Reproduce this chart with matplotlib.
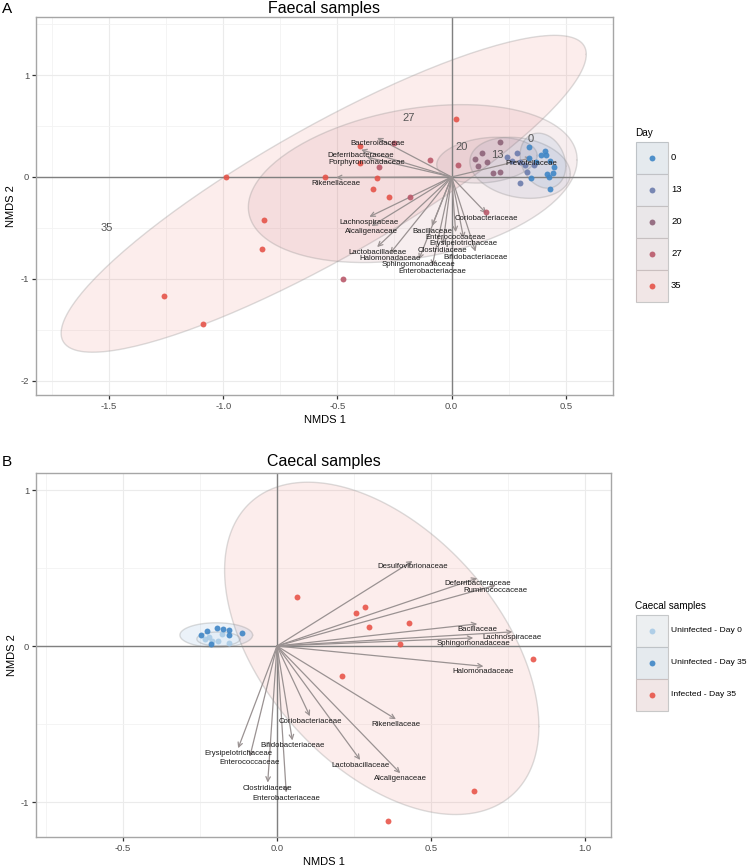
import matplotlib
matplotlib.use("Agg")
import matplotlib.pyplot as plt
import numpy as np
from matplotlib.patches import Rectangle
from matplotlib.ticker import MultipleLocator, FixedLocator, FixedFormatter

plt.rcParams['font.family'] = ['Liberation Sans', 'DejaVu Sans']

# ---------------- faecal samples (panel A) ----------------
faecal_days = [0, 13, 20, 27, 35]
faecal_colors = ['#3f86c6', '#6c7cad', '#8e6379', '#b9596a', '#e5544a']

faecal_day = ([0] * 13 + [13] * 8 + [20] * 7 + [27] * 7 + [35] * 12)
faecal_x = [0.339, 0.408, 0.415, 0.339, 0.43, 0.444, 0.427, 0.433, 0.35, 0.39, 0.45, 0.37, 0.42,
            0.301, 0.286, 0.244, 0.32, 0.298, 0.266, 0.36, 0.33,
            0.21, 0.134, 0.155, 0.102, 0.114, 0.181, 0.21,
            0.026, -0.093, -0.25, -0.316, -0.18, 0.149, -0.474,
            0.02, -0.40, -0.40, -0.553, -0.325, -0.343, -0.273, -0.99, -0.82, -0.83, -1.26, -1.09]
faecal_y = [0.291, 0.258, 0.216, 0.183, 0.16, 0.042, -0.003, -0.115, -0.007, 0.22, 0.10, 0.15, 0.03,
            -0.062, 0.238, 0.2, 0.118, 0.15, 0.157, 0.12, 0.05,
            0.346, 0.232, 0.144, 0.18, 0.111, 0.036, 0.049,
            0.115, 0.167, 0.33, 0.10, -0.2, -0.34, -1.003,
            0.565, 0.30, 0.134, 0.003, -0.007, -0.115, -0.193, 0.0, -0.42, -0.71, -1.17, -1.44]

# stat_ellipse outlines per day: centre, half-extent in x / y, correlation
faecal_ell_cx = [0.40, 0.30, 0.155, -0.17, -0.56]
faecal_ell_cy = [0.16, 0.09, 0.165, -0.065, -0.165]
faecal_ell_sx = [0.10, 0.22, 0.22, 0.72, 1.15]
faecal_ell_sy = [0.27, 0.30, 0.225, 0.775, 1.555]
faecal_ell_r = [-0.2, -0.2, 0.2, 0.3, 0.88]
faecal_lab_x = [0.345, 0.20, 0.042, -0.19, -1.51]
faecal_lab_y = [0.37, 0.216, 0.297, 0.58, -0.5]

faecal_taxa = ['Bacteroidaceae', 'Deferribacteraceae', 'Porphyromonadaceae', 'Rikenellaceae',
               'Prevotellaceae', 'Lachnospiraceae', 'Alcaligenaceae', 'Bacillaceae',
               'Coriobacteriaceae', 'Enterococcaceae', 'Erysipelotrichaceae', 'Clostridiaceae',
               'Lactobacillaceae', 'Bifidobacteriaceae', 'Halomonadaceae', 'Sphingomonadaceae',
               'Enterobacteriaceae']
faecal_vx = [-0.326, -0.396, -0.371, -0.506, 0.35, -0.36, -0.35, -0.086, 0.152, 0.018, 0.053,
             -0.038, -0.326, 0.105, -0.269, -0.143, -0.085]
faecal_vy = [0.384, 0.267, 0.194, -0.005, 0.188, -0.391, -0.482, -0.482, -0.356, -0.541, -0.603,
             -0.666, -0.688, -0.733, -0.75, -0.809, -0.874]

# ---------------- caecal samples (panel B) ----------------
caecal_groups = ['Uninfected - Day 0', 'Uninfected - Day 35', 'Infected - Day 35']
caecal_colors = ['#a9cbe6', '#3f86c6', '#e8554a']
caecal_group = [0] * 6 + [1] * 8 + [2] * 10
caecal_x = [-0.22, -0.21, -0.18, -0.155, -0.19, -0.235,
            -0.248, -0.226, -0.196, -0.174, -0.156, -0.155, -0.115, -0.213,
            0.066, 0.285, 0.256, 0.30, 0.43, 0.40, 0.212, 0.83, 0.64, 0.36]
caecal_y = [0.06, 0.035, 0.075, 0.02, 0.03, 0.045,
            0.068, 0.098, 0.117, 0.111, 0.103, 0.073, 0.081, 0.011,
            0.316, 0.25, 0.21, 0.124, 0.15, 0.011, -0.19, -0.08, -0.93, -1.12]

caecal_ell_cx = [-0.19, -0.197, 0.34]
caecal_ell_cy = [0.045, 0.07, -0.015]
caecal_ell_sx = [0.07, 0.118, 0.51]
caecal_ell_sy = [0.045, 0.079, 1.065]
caecal_ell_r = [0.0, 0.0, -0.47]

caecal_taxa = ['Desulfovibrionaceae', 'Deferribacteraceae', 'Ruminococcaceae', 'Bacillaceae',
               'Lachnospiraceae', 'Sphingomonadaceae', 'Halomonadaceae', 'Coriobacteriaceae',
               'Rikenellaceae', 'Bifidobacteriaceae', 'Erysipelotrichaceae', 'Enterococcaceae',
               'Lactobacillaceae', 'Alcaligenaceae', 'Clostridiaceae', 'Enterobacteriaceae']
caecal_vx = [0.44, 0.65, 0.71, 0.65, 0.764, 0.637, 0.67, 0.107, 0.386, 0.05, -0.126, -0.088,
             0.27, 0.40, -0.03, 0.03]
caecal_vy = [0.545, 0.435, 0.39, 0.142, 0.091, 0.052, -0.13, -0.45, -0.469, -0.605, -0.655,
             -0.709, -0.73, -0.815, -0.875, -0.939]

W, H = 749, 868
fig = plt.figure(figsize=(W / 100, H / 100), dpi=100)


def px_axes(x0, y0, x1, y1):
    return fig.add_axes([x0 / W, 1 - y1 / H, (x1 - x0) / W, (y1 - y0) / H])


def ellipse(ax, cx, cy, sx, sy, r, color):
    t = np.linspace(0, 2 * np.pi, 200)
    ex = cx + sx * np.cos(t)
    ey = cy + sy * (r * np.cos(t) + np.sqrt(1 - r ** 2) * np.sin(t))
    ax.fill(ex, ey, facecolor=color, alpha=0.1, zorder=1)
    ax.plot(ex, ey, color=(0.55, 0.55, 0.55, 0.3), lw=1, zorder=1)


def style(ax, xlim, ylim, xt, yt, xminor, yminor):
    ax.set_xlim(*xlim)
    ax.set_ylim(*ylim)
    ax.xaxis.set_major_locator(FixedLocator(xt))
    ax.xaxis.set_major_formatter(FixedFormatter([f'{v:.1f}' for v in xt]))
    ax.yaxis.set_major_locator(FixedLocator(yt))
    ax.yaxis.set_major_formatter(FixedFormatter([f'{v:d}' for v in yt]))
    ax.xaxis.set_minor_locator(MultipleLocator(xminor))
    ax.yaxis.set_minor_locator(MultipleLocator(yminor))
    ax.grid(which='major', color='#ebebeb', lw=0.8, zorder=0)
    ax.grid(which='minor', color='#f3f3f3', lw=0.6, zorder=0)
    ax.set_axisbelow(True)
    for s in ax.spines.values():
        s.set_color('#a6a6a6')
        s.set_linewidth(1)
    ax.tick_params(which='major', length=3, width=0.9, color='#333333',
                   labelsize=6.8, labelcolor='#4d4d4d', pad=2)
    ax.tick_params(which='minor', length=0)
    ax.axhline(0, color='#808080', lw=1, zorder=2)
    ax.axvline(0, color='#808080', lw=1, zorder=2)
    ax.set_xlabel('NMDS 1', fontsize=8, labelpad=3)
    ax.set_ylabel('NMDS 2', fontsize=8, labelpad=3)


def vectors(ax, taxa, vx, vy):
    for name, x, y in zip(taxa, vx, vy):
        ax.annotate('', xy=(x, y), xytext=(0, 0),
                    arrowprops=dict(arrowstyle='->', color='#9a9292', lw=0.9,
                                    shrinkA=0, shrinkB=0, mutation_scale=8),
                    zorder=3)
        ax.annotate(name, xy=(x, y), xytext=(0, -4), textcoords='offset points',
                    ha='center', va='center', fontsize=5.6, color='#1a1a1a', zorder=5)


# panel A
ax1 = px_axes(36, 17, 613, 395)
style(ax1, (-1.82, 0.707), (-2.14, 1.57), [-1.5, -1.0, -0.5, 0.0, 0.5], [-2, -1, 0, 1], 0.25, 0.5)
for i in range(len(faecal_days))[::-1]:
    ellipse(ax1, faecal_ell_cx[i], faecal_ell_cy[i], faecal_ell_sx[i], faecal_ell_sy[i],
            faecal_ell_r[i], faecal_colors[i])
vectors(ax1, faecal_taxa, faecal_vx, faecal_vy)
fx = np.array(faecal_x)
fy = np.array(faecal_y)
fd = np.array(faecal_day)
for day, col in zip(faecal_days, faecal_colors):
    m = fd == day
    ax1.scatter(fx[m], fy[m], s=18, color=col, alpha=0.9, lw=0, zorder=4)
for day, x, y in zip(faecal_days, faecal_lab_x, faecal_lab_y):
    ax1.text(x, y, str(day), ha='center', va='center', fontsize=8, color='#555555', zorder=5)

# panel B
ax2 = px_axes(36, 473, 611, 837)
style(ax2, (-0.782, 1.084), (-1.224, 1.109), [-0.5, 0.0, 0.5, 1.0], [-1, 0, 1], 0.25, 0.5)
for i in range(len(caecal_groups))[::-1]:
    ellipse(ax2, caecal_ell_cx[i], caecal_ell_cy[i], caecal_ell_sx[i], caecal_ell_sy[i],
            caecal_ell_r[i], caecal_colors[i])
vectors(ax2, caecal_taxa, caecal_vx, caecal_vy)
cx_ = np.array(caecal_x)
cy_ = np.array(caecal_y)
cg = np.array(caecal_group)
for g, col in enumerate(caecal_colors):
    m = cg == g
    ax2.scatter(cx_[m], cy_[m], s=18, color=col, alpha=0.9, lw=0, zorder=4)

# overlay in pixel coordinates for titles and legends
ov = fig.add_axes([0, 0, 1, 1])
ov.set_xlim(0, W)
ov.set_ylim(H, 0)
ov.axis('off')
ov.text(2, 13, 'A', fontsize=11, va='baseline')
ov.text(324, 13, 'Faecal samples', fontsize=11.5, ha='center', va='baseline')
ov.text(2, 466, 'B', fontsize=11, va='baseline')
ov.text(324, 466, 'Caecal samples', fontsize=11.5, ha='center', va='baseline')


def legend(title, labels, colors, y_top, size):
    ov.text(635, y_top - 9, title, fontsize=7.2, va='center')
    for k, (lab, col) in enumerate(zip(labels, colors)):
        y0 = y_top + 32 * k
        ov.add_patch(Rectangle((636, y0), 32, 32, facecolor='#f2f2f2', edgecolor='#c8c8c8', lw=0.8))
        ov.add_patch(Rectangle((636, y0), 32, 32, facecolor=col, alpha=0.07, lw=0))
        ov.scatter([652], [y0 + 16], s=18, color=col, alpha=0.9, lw=0)
        ov.text(671, y0 + 16, lab, fontsize=size, va='center')


legend('Day', [str(d) for d in faecal_days], faecal_colors, 142, 6.8)
legend('Caecal samples', caecal_groups, caecal_colors, 615, 6.1)

fig.savefig('out.png', dpi=100)
